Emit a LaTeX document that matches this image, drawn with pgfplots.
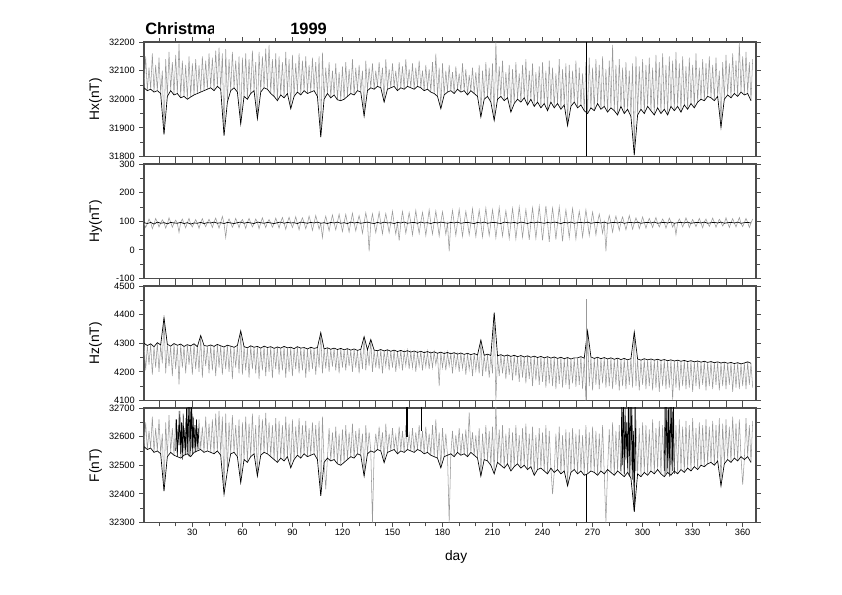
\documentclass[border=0pt]{standalone}
\usepackage{pgfplots}
\pgfplotsset{compat=1.18}
\usepackage{pgfplotstable}
\usepackage{fontspec}
\setmainfont{Liberation Sans}

\pgfplotstableread[row sep=\\]{
y\\
32040\\32150\\32030\\32110\\32035\\32160\\32025\\32120\\32030\\32145\\32020\\32100\\31877\\32140\\32010\\32165\\32030\\32130\\32015\\32155\\
32020\\32194\\32005\\32135\\32010\\32120\\32000\\32150\\32008\\32125\\32015\\32140\\32020\\32118\\32025\\32150\\32030\\32135\\32035\\32160\\
32040\\32145\\32030\\32170\\32045\\32180\\32035\\32160\\31873\\32175\\31990\\32140\\32030\\32165\\32040\\32135\\32025\\32150\\31914\\32145\\
32010\\32160\\32000\\32140\\32020\\32170\\32030\\32130\\31932\\32165\\32025\\32150\\32040\\32177\\32035\\32190\\32020\\32140\\32010\\32160\\
31995\\32150\\32015\\32130\\32005\\32165\\32020\\32140\\31967\\32155\\32010\\32125\\32025\\32160\\32015\\32135\\32030\\32150\\32020\\32120\\
32025\\32145\\32030\\32130\\32010\\32150\\31868\\32163\\32000\\32110\\32020\\32130\\32005\\32100\\32015\\32125\\31998\\32095\\31995\\32115\\
32000\\32130\\32010\\32105\\32020\\32140\\32015\\32110\\32030\\32120\\32025\\32100\\31941\\32135\\32030\\32110\\32040\\32125\\32035\\32100\\
32045\\32130\\32040\\32110\\31990\\32140\\32035\\32105\\32040\\32125\\32045\\32100\\32030\\32130\\32040\\32115\\32035\\32140\\32045\\32105\\
32040\\32125\\32035\\32110\\32045\\32135\\32040\\32100\\32030\\32120\\32035\\32105\\32025\\32130\\32020\\32159\\32010\\32110\\31967\\32125\\
32015\\32100\\32025\\32120\\32030\\32095\\32020\\32115\\32035\\32090\\32025\\32125\\32030\\32105\\32015\\32085\\32030\\32110\\32020\\32095\\
32010\\32120\\31938\\32100\\32000\\32130\\32010\\32110\\31990\\32125\\31926\\32200\\32000\\32115\\32010\\32135\\31995\\32095\\32005\\32120\\
31955\\32105\\31985\\32130\\32000\\32090\\31990\\32120\\32005\\32140\\31980\\32100\\32000\\32125\\31975\\32095\\31990\\32115\\31970\\32130\\
31985\\32100\\31960\\32135\\31990\\32110\\31970\\32090\\31985\\32140\\31965\\32105\\31980\\32125\\31908\\32120\\31975\\32100\\31990\\32135\\
31970\\32110\\31980\\32090\\31960\\32130\\31950\\32145\\31970\\32110\\31960\\32140\\31985\\32120\\31965\\32150\\31975\\32105\\31955\\32135\\
31970\\32190\\31960\\32120\\31945\\32140\\31975\\32110\\31950\\32130\\31965\\32100\\31940\\32125\\31805\\32150\\31945\\32115\\31965\\32140\\
31950\\32120\\31975\\32145\\31960\\32110\\31945\\32155\\31970\\32130\\31950\\32160\\31965\\32120\\31945\\32150\\31975\\32135\\31960\\32165\\
31975\\32125\\31955\\32150\\31980\\32115\\31965\\32145\\31985\\32120\\31970\\32160\\31990\\32110\\32000\\32140\\31995\\32125\\32010\\32150\\
32005\\32120\\31995\\32145\\32010\\32100\\31902\\32130\\32000\\32155\\32015\\32125\\32005\\32160\\32020\\32135\\32010\\32198\\32025\\32150\\
32015\\32165\\32020\\32130\\31995\\32140\\
}\tHx

\pgfplotstableread[row sep=\\]{
y\\
95\\78\\92\\108\\96\\74\\90\\110\\97\\80\\93\\105\\95\\76\\91\\112\\96\\79\\94\\104\\
93\\61\\96\\108\\92\\77\\95\\110\\90\\80\\94\\106\\93\\75\\96\\109\\92\\81\\95\\107\\
94\\78\\97\\111\\93\\76\\95\\117\\92\\43\\96\\108\\94\\79\\92\\110\\95\\77\\97\\106\\
93\\75\\96\\110\\94\\80\\92\\108\\97\\74\\95\\112\\93\\78\\96\\106\\94\\79\\92\\111\\
95\\76\\97\\113\\93\\72\\96\\114\\94\\78\\95\\116\\92\\70\\97\\112\\95\\74\\93\\118\\
96\\68\\94\\120\\97\\72\\93\\43\\95\\118\\92\\66\\96\\122\\94\\70\\97\\125\\93\\64\\
95\\124\\92\\62\\97\\128\\94\\66\\96\\120\\93\\58\\95\\130\\97\\-5\\94\\126\\92\\60\\
96\\132\\93\\56\\97\\127\\94\\60\\95\\135\\92\\55\\96\\32\\94\\134\\97\\58\\93\\130\\
95\\52\\96\\138\\93\\57\\97\\131\\94\\50\\95\\140\\92\\55\\96\\136\\94\\48\\97\\133\\
95\\54\\93\\-5\\96\\138\\94\\50\\97\\142\\93\\47\\95\\135\\96\\52\\94\\144\\92\\46\\
96\\139\\94\\45\\97\\146\\93\\50\\95\\140\\96\\42\\94\\148\\92\\48\\97\\137\\95\\40\\
94\\145\\96\\38\\93\\150\\97\\44\\95\\141\\92\\35\\96\\147\\94\\40\\97\\152\\95\\33\\
93\\154\\96\\28\\94\\146\\97\\36\\95\\150\\92\\30\\96\\140\\94\\42\\97\\145\\93\\38\\
95\\135\\96\\45\\94\\140\\97\\50\\93\\132\\95\\52\\96\\125\\94\\58\\97\\-5\\93\\120\\
95\\62\\96\\118\\94\\68\\97\\115\\93\\70\\95\\120\\96\\72\\94\\112\\97\\74\\93\\115\\
95\\76\\96\\110\\94\\78\\97\\113\\93\\80\\95\\108\\96\\76\\94\\111\\97\\79\\93\\53\\
95\\108\\96\\80\\94\\112\\97\\78\\93\\106\\95\\81\\96\\110\\94\\77\\97\\108\\93\\82\\
95\\111\\96\\79\\94\\107\\97\\83\\93\\112\\95\\78\\96\\109\\94\\80\\97\\113\\93\\81\\
95\\110\\96\\78\\94\\108\\
}\tHy

\pgfplotstableread[row sep=\\]{
y\\
4300\\4205\\4292\\4225\\4298\\4190\\4288\\4215\\4302\\4200\\4294\\4230\\4389\\4195\\4296\\4220\\4290\\4185\\4299\\4210\\
4293\\4156\\4297\\4215\\4289\\4195\\4295\\4225\\4291\\4190\\4298\\4210\\4288\\4200\\4327\\4180\\4292\\4220\\4290\\4195\\
4294\\4205\\4289\\4185\\4296\\4215\\4291\\4190\\4287\\4210\\4293\\4200\\4290\\4175\\4286\\4215\\4292\\4195\\4343\\4190\\
4288\\4205\\4284\\4180\\4291\\4210\\4286\\4195\\4289\\4175\\4283\\4205\\4290\\4185\\4285\\4200\\4288\\4178\\4282\\4210\\
4287\\4190\\4283\\4205\\4289\\4180\\4284\\4200\\4286\\4185\\4281\\4210\\4288\\4195\\4283\\4205\\4285\\4180\\4280\\4200\\
4286\\4210\\4282\\4190\\4285\\4215\\4337\\4195\\4280\\4212\\4284\\4200\\4279\\4218\\4283\\4205\\4278\\4195\\4282\\4215\\
4277\\4205\\4281\\4220\\4276\\4200\\4280\\4215\\4275\\4195\\4279\\4210\\4323\\4205\\4277\\4220\\4313\\4200\\4276\\4215\\
4274\\4210\\4278\\4195\\4273\\4220\\4277\\4205\\4272\\4215\\4276\\4200\\4271\\4218\\4275\\4205\\4270\\4222\\4274\\4210\\
4269\\4215\\4273\\4200\\4268\\4220\\4272\\4205\\4267\\4218\\4271\\4210\\4266\\4215\\4270\\4225\\4265\\4150\\4269\\4215\\
4264\\4205\\4268\\4220\\4263\\4195\\4267\\4215\\4262\\4200\\4266\\4212\\4261\\4190\\4265\\4208\\4260\\4185\\4264\\4205\\
4259\\4195\\4311\\4185\\4258\\4200\\4262\\4180\\4257\\4195\\4407\\4100\\4256\\4185\\4260\\4195\\4255\\4175\\4259\\4190\\
4254\\4170\\4258\\4185\\4253\\4165\\4257\\4180\\4252\\4160\\4256\\4175\\4251\\4150\\4255\\4170\\4250\\4155\\4254\\4165\\
4249\\4145\\4253\\4160\\4248\\4150\\4252\\4140\\4247\\4158\\4251\\4145\\4246\\4155\\4250\\4140\\4245\\4160\\4249\\4148\\
4249\\4155\\4253\\4140\\4248\\4100\\4343\\4150\\4252\\4135\\4247\\4155\\4251\\4140\\4246\\4160\\4250\\4145\\4245\\4150\\
4249\\4140\\4244\\4155\\4248\\4135\\4243\\4150\\4247\\4140\\4242\\4155\\4246\\4145\\4339\\4150\\4245\\4135\\4241\\4155\\
4246\\4140\\4242\\4150\\4245\\4135\\4241\\4145\\4244\\4130\\4240\\4150\\4243\\4140\\4239\\4145\\4242\\4103\\4238\\4145\\
4241\\4135\\4237\\4150\\4240\\4140\\4236\\4145\\4239\\4130\\4235\\4150\\4238\\4140\\4234\\4155\\4237\\4135\\4233\\4150\\
4236\\4140\\4232\\4155\\4235\\4135\\4231\\4150\\4234\\4140\\4230\\4155\\4233\\4130\\4229\\4145\\4232\\4140\\4228\\4150\\
4231\\4140\\4235\\4155\\4230\\4145\\
}\tHz

\pgfplotstableread[row sep=\\]{
y\\
32565\\32650\\32555\\32620\\32560\\32670\\32545\\32630\\32550\\32660\\32540\\32610\\32410\\32650\\32530\\32675\\32545\\32630\\32535\\32660\\
32530\\32690\\32525\\32640\\32535\\32665\\32540\\32650\\32530\\32680\\32545\\32640\\32550\\32660\\32555\\32635\\32545\\32670\\32550\\32645\\
32545\\32660\\32540\\32680\\32550\\32690\\32535\\32670\\32399\\32680\\32480\\32650\\32540\\32675\\32545\\32640\\32530\\32660\\32439\\32650\\
32520\\32670\\32510\\32645\\32530\\32680\\32540\\32640\\32462\\32675\\32535\\32660\\32545\\32683\\32540\\32650\\32530\\32640\\32520\\32665\\
32510\\32655\\32525\\32640\\32515\\32670\\32530\\32645\\32491\\32660\\32520\\32635\\32535\\32665\\32525\\32640\\32540\\32655\\32530\\32630\\
32535\\32650\\32540\\32640\\32520\\32655\\32393\\32670\\32510\\32416\\32525\\32630\\32515\\32615\\32520\\32635\\32505\\32610\\32500\\32625\\
32510\\32640\\32520\\32615\\32530\\32645\\32525\\32620\\32540\\32630\\32535\\32610\\32462\\32640\\32540\\32615\\32550\\32300\\32545\\32610\\
32555\\32635\\32550\\32615\\32509\\32645\\32545\\32610\\32550\\32630\\32555\\32605\\32540\\32635\\32550\\32620\\32545\\32640\\32555\\32610\\
32550\\32630\\32545\\32615\\32555\\32640\\32550\\32620\\32540\\32635\\32545\\32610\\32535\\32640\\32530\\32660\\32525\\32615\\32491\\32630\\
32530\\32610\\32535\\32300\\32540\\32620\\32530\\32605\\32545\\32630\\32535\\32610\\32540\\32625\\32530\\32685\\32545\\32615\\32535\\32605\\
32525\\32630\\32462\\32610\\32520\\32640\\32515\\32620\\32500\\32635\\32470\\32720\\32510\\32625\\32500\\32640\\32490\\32610\\32505\\32630\\
32480\\32615\\32495\\32640\\32505\\32605\\32490\\32630\\32500\\32645\\32485\\32610\\32495\\32635\\32465\\32605\\32485\\32630\\32490\\32615\\
32480\\32640\\32470\\32620\\32490\\32399\\32475\\32610\\32485\\32635\\32470\\32605\\32480\\32625\\32428\\32615\\32475\\32630\\32485\\32610\\
32470\\32625\\32480\\32605\\32465\\32640\\32470\\32615\\32480\\32635\\32475\\32620\\32465\\32610\\32480\\32640\\32470\\32300\\32485\\32625\\
32475\\32650\\32465\\32620\\32480\\32640\\32470\\32630\\32460\\32655\\32475\\32625\\32455\\32640\\32338\\32660\\32470\\32630\\32460\\32650\\
32475\\32640\\32465\\32625\\32480\\32660\\32470\\32630\\32485\\32655\\32470\\32640\\32460\\32665\\32475\\32635\\32465\\32650\\32480\\32640\\
32470\\32660\\32485\\32635\\32475\\32655\\32490\\32640\\32480\\32665\\32495\\32630\\32485\\32650\\32500\\32640\\32495\\32660\\32505\\32635\\
32510\\32655\\32500\\32640\\32515\\32665\\32428\\32645\\32505\\32660\\32520\\32635\\32510\\32670\\32525\\32645\\32515\\32660\\32530\\32432\\
32520\\32665\\32530\\32640\\32510\\32655\\
}\tF

\pgfplotsset{
  magpanel/.style={
    scale only axis, width=459pt, height=85.875pt,
    xmin=1, xmax=368,
    xtick={30,60,...,360},
    minor xtick={10,20,...,360},
    minor y tick num=1,
    tick align=outside,
    tick pos=both,
    ticklabel pos=left,
    axis line style={black!70, line width=0.9pt},
    major tick style={black!70, line width=0.6pt},
    minor tick style={black!70, line width=0.6pt},
    major tick length=3.5pt, minor tick length=3pt,
    scaled y ticks=false,
    /pgf/number format/1000 sep={},
    /pgf/number format/assume math mode=true,
    tick label style={font=\fontsize{6.9}{7.5}\selectfont, inner ysep=1pt},
    ylabel style={at={(axis description cs:-0.079,0.5)}, anchor=center, font=\fontsize{10.3}{12}\selectfont},
  },
  grayline/.style={black!40, line width=0.4pt},
  blackline/.style={black, line width=0.5pt, each nth point=2, filter discard warning=false, unbounded coords=discard},
}

\begin{document}
\begin{tikzpicture}
\path[use as bounding box] (0,0) rectangle (631.5pt,446.25pt);

\begin{scope}
\clip (100pt,400pt) rectangle (160pt,446pt);
\node[anchor=base west, inner sep=0pt, font=\bfseries\fontsize{12.3}{14}\selectfont] at (108.75pt,420pt) {Christma};
\end{scope}
\node[anchor=base west, inner sep=0pt, font=\bfseries\fontsize{12.3}{14}\selectfont] at (217.5pt,420pt) {1999};

% Hx
\begin{axis}[magpanel, at={(108pt,414.75pt)}, anchor=north west,
  ymin=31800, ymax=32200, ytick={31800,31900,...,32200},
  xticklabel=\empty, ylabel={Hx(nT)}]
\addplot[grayline] table[x expr=\coordindex+1, y=y] {\tHx};
\addplot[blackline] table[x expr=\coordindex+1, y=y] {\tHx};
\addplot[black, line width=0.4pt] coordinates {(266,31800)(266,32200)};
\end{axis}

% Hy
\begin{axis}[magpanel, at={(108pt,323.25pt)}, anchor=north west,
  ymin=-100, ymax=300, ytick={-100,0,...,300},
  xticklabel=\empty, ylabel={Hy(nT)}]
\addplot[grayline] table[x expr=\coordindex+1, y=y] {\tHy};
\addplot[blackline] table[x expr=\coordindex+1, y=y] {\tHy};
\end{axis}

% Hz
\begin{axis}[magpanel, at={(108pt,231.75pt)}, anchor=north west,
  ymin=4100, ymax=4500, ytick={4100,4200,...,4500},
  xticklabel=\empty, ylabel={Hz(nT)}]
\addplot[grayline] table[x expr=\coordindex+1, y=y] {\tHz};
\addplot[blackline] table[x expr=\coordindex+1, y=y] {\tHz};
\addplot[black!40, line width=0.5pt] coordinates {(266,4100)(266,4453)};
\end{axis}

% F
\begin{axis}[magpanel, at={(108pt,140.25pt)}, anchor=north west,
  ymin=32300, ymax=32700, ytick={32300,32400,...,32700},
  ylabel={F(nT)}, xlabel={day},
  xlabel style={at={(axis description cs:0.51,-0.297)}, anchor=center, font=\fontsize{10.3}{12}\selectfont}]
\addplot[grayline] table[x expr=\coordindex+1, y=y] {\tF};
\addplot[blackline] table[x expr=\coordindex+1, y=y] {\tF};
\addplot[black, line width=0.4pt] coordinates {(20,32550)(20.5,32660)(21,32530)(21.5,32640)(22,32570)(22.5,32690)(23,32540)(23.5,32650)(24,32520)(24.5,32680)(25,32560)(25.5,32630)(26,32535)(26.5,32700)(27,32545)(27.5,32750)(28,32530)(28.5,32750)(29,32550)(29.5,32750)(30,32540)(30.5,32670)(31,32560)(31.5,32640)(32,32545)(32.5,32660)(33,32565)(33.5,32630)(34,32555)};
\addplot[black, line width=0.4pt] coordinates {(287,32480)(287.5,32750)(288,32500)(288.5,32750)(289,32470)(289.5,32700)(290,32520)(290.5,32650)(291,32490)(291.5,32750)(292,32460)(292.5,32750)(293,32500)(293.5,32750)(294,32450)(294.5,32620)(295,32338)(295.5,32750)(296,32480)};
\addplot[black, line width=0.4pt] coordinates {(313,32480)(313.5,32750)(314,32470)(314.5,32750)(315,32490)(315.5,32700)(316,32460)(316.5,32750)(317,32500)(317.5,32750)(318,32480)(318.5,32750)(319,32470)};
\addplot[black, line width=0.4pt] coordinates {(158,32600)(158,32750)};
\addplot[black, line width=0.4pt] coordinates {(159,32600)(159,32750)};
\addplot[black, line width=0.4pt] coordinates {(167,32620)(167,32750)};
\addplot[black, line width=0.4pt] coordinates {(266,32300)(266,32470)};
\end{axis}
\end{tikzpicture}
\end{document}
